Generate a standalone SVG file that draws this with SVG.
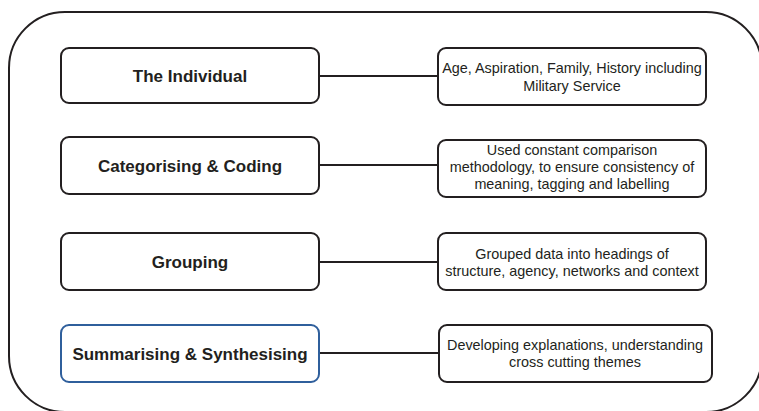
<svg xmlns="http://www.w3.org/2000/svg" width="759" height="411" viewBox="0 0 759 411">
<style>
.frame{fill:none;stroke:#231f20;stroke-width:2}
.box{fill:#fff;stroke:#231f20;stroke-width:2}
.hl{stroke:#2f5f9c}
.t{font-family:"Liberation Sans",Arial,sans-serif;fill:#231f20;text-anchor:middle}
.b{font-size:17px;font-weight:bold}
.r{font-size:14.4px}
.c{stroke:#231f20;stroke-width:2;fill:none}
</style>
<rect width="759" height="411" fill="#fff"/>
<rect class="frame" x="9" y="12" width="753" height="400" rx="56" ry="56"/>
<g id="connectors">
<line class="c" x1="319" y1="76" x2="438" y2="76"/>
<line class="c" x1="319" y1="165" x2="438" y2="165"/>
<line class="c" x1="319" y1="262" x2="438" y2="262"/>
<line class="c" x1="319" y1="353" x2="439" y2="353"/>
</g>
<g id="individual">
<rect class="box" x="61" y="48" width="258" height="55" rx="8"/>
<text class="t b" x="190" y="82">The Individual</text>
</g>
<g id="individual-detail">
<rect class="box" x="438" y="48" width="268" height="57" rx="8"/>
<text class="t r" x="572" y="73">Age, Aspiration, Family, History including</text>
<text class="t r" x="572" y="91">Military Service</text>
</g>
<g id="coding">
<rect class="box" x="61" y="137" width="258" height="57" rx="8"/>
<text class="t b" x="190" y="172">Categorising &amp; Coding</text>
</g>
<g id="coding-detail">
<rect class="box" x="438" y="140" width="268" height="57" rx="8"/>
<text class="t r" x="572" y="155">Used constant comparison</text>
<text class="t r" x="572" y="172">methodology, to ensure consistency of</text>
<text class="t r" x="572" y="189">meaning, tagging and labelling</text>
</g>
<g id="grouping">
<rect class="box" x="61" y="233" width="258" height="57" rx="8"/>
<text class="t b" x="190" y="268">Grouping</text>
</g>
<g id="grouping-detail">
<rect class="box" x="438" y="233" width="268" height="57" rx="8"/>
<text class="t r" x="572" y="259">Grouped data into headings of</text>
<text class="t r" x="572" y="276">structure, agency, networks and context</text>
</g>
<g id="summarising">
<rect class="box hl" x="61" y="325" width="258" height="57" rx="8"/>
<text class="t b" x="190" y="360">Summarising &amp; Synthesising</text>
</g>
<g id="summarising-detail">
<rect class="box" x="439" y="325" width="273" height="57" rx="8"/>
<text class="t r" x="575" y="350">Developing explanations, understanding</text>
<text class="t r" x="575" y="367">cross cutting themes</text>
</g>
</svg>
